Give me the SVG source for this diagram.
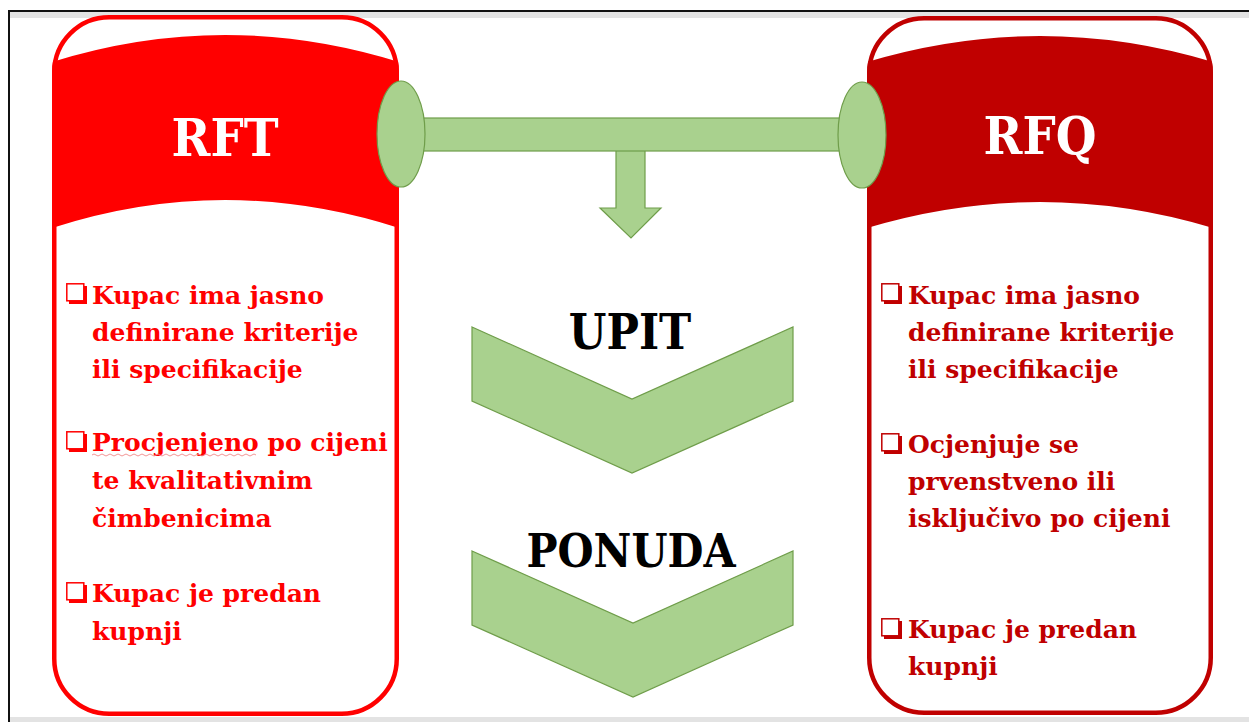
<svg xmlns="http://www.w3.org/2000/svg" width="1249" height="722" viewBox="0 0 1249 722">
<style>
.title{font-family:"DejaVu Serif","Liberation Serif",serif;font-weight:bold;font-stretch:condensed;font-size:52px;fill:#ffffff;text-anchor:middle}
.body{font-family:"DejaVu Serif","Liberation Serif",serif;font-weight:bold;font-size:25px}
.l{fill:#ff0000}
.r{fill:#c00000}
.mid{font-family:"DejaVu Serif","Liberation Serif",serif;font-weight:bold;font-stretch:condensed;font-size:48px;fill:#000;text-anchor:middle}
.green{fill:#a9d18e;stroke:#6f9d4a;stroke-width:1.2}
.box{fill:#fff;stroke-width:1.5}
</style>
<defs>
<clipPath id="clipL"><rect x="52" y="15" width="347" height="701" rx="57"/></clipPath>
<clipPath id="clipR"><rect x="867" y="16" width="346" height="699" rx="57"/></clipPath>
</defs>
<rect width="1249" height="722" fill="#fff"/>
<g id="frame">
<rect x="10" y="12" width="1239" height="6" fill="#e3e3e3"/>
<rect x="10" y="717" width="1239" height="5" fill="#e3e3e3"/>
<rect x="8" y="10" width="1241" height="2" fill="#111"/>
<rect x="8" y="10" width="2" height="712" fill="#111"/>
</g>
<g id="rft">
<path clip-path="url(#clipL)" d="M52,62 Q225,8 399,62 L399,228 Q225,172 52,228 Z" fill="#ff0000"/>
<rect x="54.25" y="17.25" width="342.5" height="696.5" rx="55" fill="none" stroke="#ff0000" stroke-width="4.5"/>
<text class="title" x="225" y="156">RFT</text>
<g class="body l">
<text x="92" y="304">Kupac ima jasno</text>
<text x="92" y="341">definirane kriterije</text>
<text x="92" y="378">ili specifikacije</text>
<text x="92" y="451">Procjenjeno po cijeni</text>
<text x="92" y="489">te kvalitativnim</text>
<text x="92" y="527">čimbenicima</text>
<text x="92" y="602">Kupac je predan</text>
<text x="92" y="640">kupnji</text>
</g>
<path d="M92,455 q2,-2 4,0 t4,0 t4,0 t4,0 t4,0 t4,0 t4,0 t4,0 t4,0 t4,0 t4,0 t4,0 t4,0 t4,0 t4,0 t4,0 t4,0 t4,0 t4,0 t4,0 t4,0 t4,0 t4,0 t4,0 t4,0 t4,0 t4,0 t4,0 t4,0 t4,0 t4,0 t4,0 t4,0 t4,0 t4,0 t4,0 t4,0 t4,0 t4,0 t4,0 t4,0" fill="none" stroke="#f08a8a" stroke-width="0.9"/>
</g>
<g id="rfq">
<path clip-path="url(#clipR)" d="M867,62 Q1040,10 1213,62 L1213,228 Q1040,176 867,228 Z" fill="#c00000"/>
<rect x="869.25" y="18.25" width="341.5" height="694.5" rx="55" fill="none" stroke="#c00000" stroke-width="4.5"/>
<text class="title" x="1040" y="154">RFQ</text>
<g class="body r">
<text x="908" y="304">Kupac ima jasno</text>
<text x="908" y="341">definirane kriterije</text>
<text x="908" y="378">ili specifikacije</text>
<text x="908" y="453">Ocjenjuje se</text>
<text x="908" y="490">prvenstveno ili</text>
<text x="908" y="527">isključivo po cijeni</text>
<text x="908" y="638">Kupac je predan</text>
<text x="908" y="675">kupnji</text>
</g>
</g>
<g id="bullets">
<g id="bl1" transform="translate(66,283)"><path d="M3,3 h18 v18 h-18 z" fill="#ff0000"/><rect class="box" x="0.8" y="0.8" width="17" height="17" stroke="#ff0000"/></g>
<g id="bl2" transform="translate(66,431)"><path d="M3,3 h18 v18 h-18 z" fill="#ff0000"/><rect class="box" x="0.8" y="0.8" width="17" height="17" stroke="#ff0000"/></g>
<g id="bl3" transform="translate(66,582)"><path d="M3,3 h18 v18 h-18 z" fill="#ff0000"/><rect class="box" x="0.8" y="0.8" width="17" height="17" stroke="#ff0000"/></g>
<g id="br1" transform="translate(881,283)"><path d="M3,3 h18 v18 h-18 z" fill="#c00000"/><rect class="box" x="0.8" y="0.8" width="17" height="17" stroke="#c00000"/></g>
<g id="br2" transform="translate(881,433)"><path d="M3,3 h18 v18 h-18 z" fill="#c00000"/><rect class="box" x="0.8" y="0.8" width="17" height="17" stroke="#c00000"/></g>
<g id="br3" transform="translate(881,618)"><path d="M3,3 h18 v18 h-18 z" fill="#c00000"/><rect class="box" x="0.8" y="0.8" width="17" height="17" stroke="#c00000"/></g>
</g>
<g id="connectors">
<polygon class="green" points="616,150 616,208 600,208 631,238 661,208 645,208 645,150"/>
<rect class="green" x="401" y="118" width="461" height="33"/>
<ellipse class="green" cx="401" cy="134" rx="24" ry="53"/>
<ellipse class="green" cx="862" cy="135" rx="24" ry="53"/>
</g>
<g id="upit">
<polygon class="green" points="472,327 632,399 793,327 793,401 632,473 472,401"/>
<text class="mid" x="630" y="349">UPIT</text>
</g>
<g id="ponuda">
<polygon class="green" points="472,551 633,623 793,551 793,625 633,697 472,625"/>
<text class="mid" x="631" y="567" style="font-size:46px">PONUDA</text>
</g>
</svg>
